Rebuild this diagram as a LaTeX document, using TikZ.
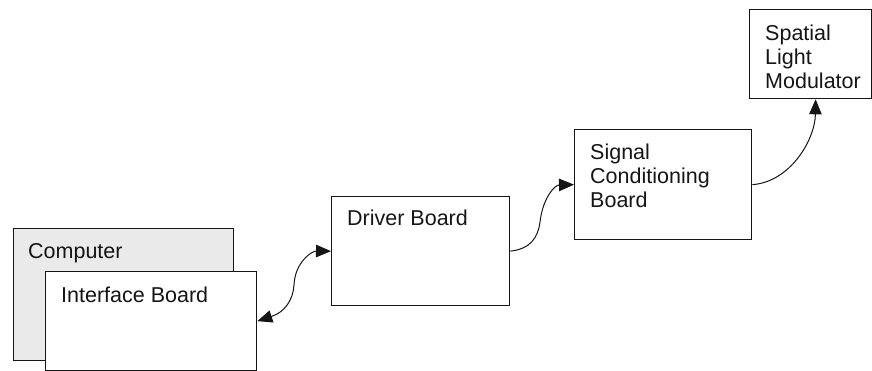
\documentclass[tikz,border=0pt]{standalone}
\usepackage{fontspec}
\setmainfont{Liberation Sans}
\usetikzlibrary{arrows.meta}
\definecolor{boxgray}{HTML}{EAEAEA}
\definecolor{ink}{HTML}{151515}
\begin{document}
\begin{tikzpicture}[x=1pt,y=-1pt,
 box/.style={draw=ink, line width=1.3pt, rectangle, inner sep=0pt, anchor=north west},
 lbl/.style={anchor=base west, inner sep=0pt, align=left, font=\fontsize{21.5}{24}\selectfont, text=ink},
 link/.style={draw=ink, line width=1pt},
 tip/.style={-{Triangle[length=15pt,width=12.5pt]}},
 tips/.style={{Triangle[length=15pt,width=12.5pt]}-{Triangle[length=15pt,width=12.5pt]}}]
\useasboundingbox (0,0) rectangle (872,371);
% boxes
\node[box, fill=boxgray, minimum width=220pt, minimum height=132pt] (comp) at (13,228) {};
\node[box, fill=white, minimum width=211pt, minimum height=99pt] (ib) at (45,271) {};
\node[box, minimum width=178pt, minimum height=109pt] (drv) at (331,196) {};
\node[box, minimum width=177pt, minimum height=110pt] (sig) at (574,129) {};
\node[box, minimum width=122pt, minimum height=89pt] (slm) at (749,9) {};
% labels (base anchor = baseline of last line)
\node[lbl] (compT) at (28,258.5) {Computer};
\node[lbl] (ibT) at (61,302.5) {Interface Board};
\node[lbl] (drvT) at (347,226) {Driver Board};
\node[lbl] (sigT) at (590,207.5) {Signal\\Conditioning\\Board};
\node[lbl] (slmT) at (765,88.5) {Spatial\\Light\\Modulator};
% connectors
\coordinate (slmin) at ([xshift=5pt]slm.south);
\draw[link,tips] (ib.east) .. controls (285,312) and (293,300) .. (294,285)
  .. controls (295,262) and (312,251) .. (drv.west);
\draw[link,tip] (drv.east) .. controls (530,249) and (538,238) .. (540,222)
  .. controls (543,197) and (555,185) .. (sig.west);
\draw[link,tip] (sig.east) .. controls (790,182) and (815,140) .. (slmin);
\end{tikzpicture}
\end{document}
